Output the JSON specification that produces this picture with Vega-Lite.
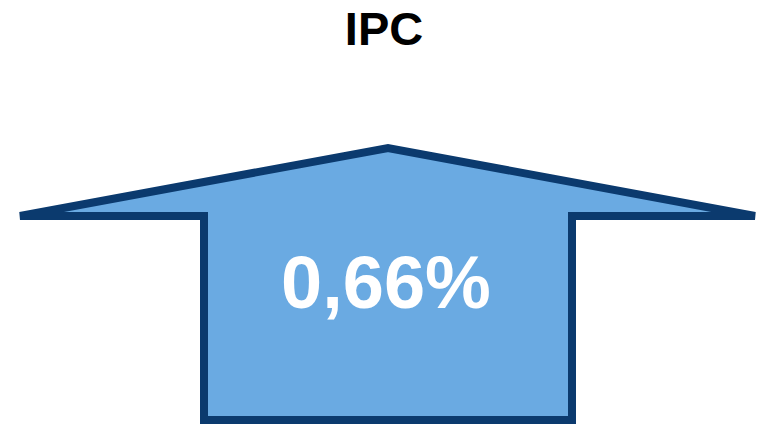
{
  "$schema": "https://vega.github.io/schema/vega-lite/v6.json",
  "width": 761,
  "height": 424,
  "autosize": {"type": "none"},
  "padding": 0,
  "background": "white",
  "config": {"view": {"stroke": null}},
  "layer": [
    {
      "data": {"values": [
        {"i": 0, "x": 388, "y": 420},
        {"i": 1, "x": 204, "y": 420},
        {"i": 2, "x": 204, "y": 216},
        {"i": 3, "x": 20, "y": 216},
        {"i": 4, "x": 388, "y": 148},
        {"i": 5, "x": 755, "y": 216},
        {"i": 6, "x": 572, "y": 216},
        {"i": 7, "x": 572, "y": 420},
        {"i": 8, "x": 388, "y": 420}
      ]},
      "mark": {"type": "line", "fill": "#6AAAE2", "stroke": "#0B3A6E", "strokeWidth": 8, "strokeJoin": "miter", "strokeMiterLimit": 4, "interpolate": "linear", "clip": false},
      "encoding": {
        "x": {"field": "x", "type": "quantitative", "scale": {"domain": [0, 761], "nice": false, "zero": false}, "axis": null},
        "y": {"field": "y", "type": "quantitative", "scale": {"domain": [0, 424], "reverse": true, "nice": false, "zero": false}, "axis": null},
        "order": {"field": "i", "type": "quantitative"}
      }
    },
    {
      "data": {"values": [
        {"label": "IPC", "x": 384, "y": 45}
      ]},
      "mark": {"type": "text", "font": "Liberation Sans", "fontWeight": "bold", "fontSize": 47, "color": "#000000", "baseline": "alphabetic", "align": "center"},
      "encoding": {
        "x": {"field": "x", "type": "quantitative"},
        "y": {"field": "y", "type": "quantitative"},
        "text": {"field": "label"}
      }
    },
    {
      "data": {"values": [
        {"label": "0,66%", "x": 386, "y": 308}
      ]},
      "mark": {"type": "text", "font": "Liberation Sans", "fontWeight": "bold", "fontSize": 74, "color": "#FFFFFF", "baseline": "alphabetic", "align": "center"},
      "encoding": {
        "x": {"field": "x", "type": "quantitative"},
        "y": {"field": "y", "type": "quantitative"},
        "text": {"field": "label"}
      }
    }
  ]
}
